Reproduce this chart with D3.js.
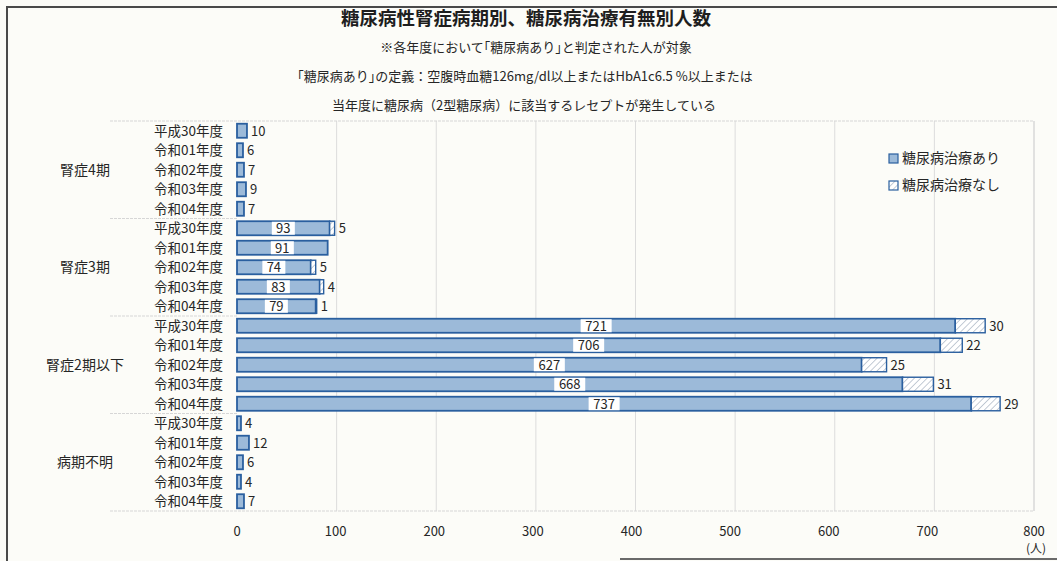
<!DOCTYPE html>
<html lang="ja">
<head>
<meta charset="utf-8">
<script src="https://cdn.jsdelivr.net/npm/d3@7"></script>
<style>
  html, body { margin: 0; padding: 0; background: #fcfcf8; }
  svg { display: block; font-family: "Noto Sans CJK JP", "Noto Sans", sans-serif; }
</style>
</head>
<body>
<svg id="chart" width="1057" height="561"></svg>
<script>
// 病期グループと年度
const groups = ["腎症4期", "腎症3期", "腎症2期以下", "病期不明"];
const years = ["平成30年度", "令和01年度", "令和02年度", "令和03年度", "令和04年度"];

// 糖尿病治療あり（人）: 年度順
const treated4 = [10, 6, 7, 9, 7];
const treated3 = [93, 91, 74, 83, 79];
const treated2 = [721, 706, 627, 668, 737];
const treatedU = [4, 12, 6, 4, 7];

// 糖尿病治療なし（人）
const untreated4 = [0, 0, 0, 0, 0];
const untreated3 = [5, 0, 5, 4, 1];
const untreated2 = [30, 22, 25, 31, 29];
const untreatedU = [0, 0, 0, 0, 0];

const xTicks = [0, 100, 200, 300, 400, 500, 600, 700, 800];
const seriesNames = ["糖尿病治療あり", "糖尿病治療なし"];

const titleText = "糖尿病性腎症病期別、糖尿病治療有無別人数";
const noteLines = [
  "※各年度において｢糖尿病あり｣と判定された人が対象",
  "｢糖尿病あり｣の定義：空腹時血糖126mg/dl以上またはHbA1c6.5 %以上または",
  "当年度に糖尿病（2型糖尿病）に該当するレセプトが発生している"
];

const treatedAll = [treated4, treated3, treated2, treatedU];
const untreatedAll = [untreated4, untreated3, untreated2, untreatedU];

const rows = [];
groups.forEach((g, gi) => {
  years.forEach((yr, yi) => {
    rows.push({ key: g + "|" + yr, group: g, year: yr,
      treated: treatedAll[gi][yi], untreated: untreatedAll[gi][yi] });
  });
});

const svg = d3.select("#chart");
const fill = "#9cbad9", stroke = "#2a5f9f", textCol = "#262626";

// 外枠
svg.append("line").attr("x1", 7).attr("x2", 1057).attr("y1", 7).attr("y2", 7)
  .attr("stroke", "#4a4a4a").attr("stroke-width", 2);
svg.append("line").attr("x1", 7).attr("x2", 7).attr("y1", 6).attr("y2", 561)
  .attr("stroke", "#4a4a4a").attr("stroke-width", 2);
svg.append("line").attr("x1", 620).attr("x2", 1057).attr("y1", 559).attr("y2", 559)
  .attr("stroke", "#6a6a6a").attr("stroke-width", 2);

// 斜線パターン（治療なし）
const defs = svg.append("defs");
const pat = defs.append("pattern").attr("id", "hatch").attr("patternUnits", "userSpaceOnUse")
  .attr("width", 4.5).attr("height", 4.5).attr("patternTransform", "rotate(45)");
pat.append("rect").attr("width", 4.5).attr("height", 4.5).attr("fill", "#ffffff");
pat.append("line").attr("x1", 0).attr("y1", 0).attr("x2", 0).attr("y2", 4.5)
  .attr("stroke", "#a3b0c0").attr("stroke-width", 1.3);

// タイトル
svg.append("text").attr("x", 526).attr("y", 25).attr("text-anchor", "middle")
  .attr("font-size", 18.5).attr("font-weight", "bold").attr("fill", "#1e1e1e").text(titleText);
const noteY = [52, 81, 110];
const noteX = [536, 525, 524];
noteLines.forEach((t, i) => {
  svg.append("text").attr("x", noteX[i]).attr("y", noteY[i]).attr("text-anchor", "middle")
    .attr("font-size", 13).attr("fill", textCol).text(t);
});

// スケール
const x = d3.scaleLinear().domain([0, 800]).range([237, 1034]);
const y = d3.scaleBand().domain(rows.map(d => d.key)).range([121, 511])
  .paddingInner(0.28).paddingOuter(0.14);
const plotTop = 121, plotBottom = 511;

// 縦グリッド線
svg.append("g").selectAll("line").data(xTicks.slice(1)).join("line")
  .attr("x1", d => x(d)).attr("x2", d => x(d))
  .attr("y1", plotTop).attr("y2", plotBottom)
  .attr("stroke", "#dcdcdc").attr("stroke-width", 1);

// グループ区切り線
const groupEdges = [0, 5, 10, 15, 20].map(i => i === 20 ? plotBottom : (i === 0 ? plotTop : y(rows[i].key) - y.step() * y.paddingInner() / 2));
svg.append("g").selectAll("line").data(groupEdges).join("line")
  .attr("x1", 110)
  .attr("x2", (d, i) => (i === 0 || i === 4) ? 1034 : 237)
  .attr("y1", d => d).attr("y2", d => d)
  .attr("stroke", "#d6d6d6").attr("stroke-width", 1)
  .attr("stroke-dasharray", "3,1");
svg.append("line").attr("x1", 1034).attr("x2", 1034).attr("y1", plotTop).attr("y2", plotBottom)
  .attr("stroke", "#d6d6d6");

// 年度ラベル
svg.append("g").selectAll("text").data(rows).join("text")
  .attr("x", 223).attr("y", d => y(d.key) + y.bandwidth() / 2 + 5)
  .attr("text-anchor", "end").attr("font-size", 13.5).attr("fill", textCol)
  .text(d => d.year);

// グループラベル
svg.append("g").selectAll("text").data(groups).join("text")
  .attr("x", 85)
  .attr("y", (g, gi) => (groupEdges[gi] + groupEdges[gi + 1]) / 2 + 5)
  .attr("text-anchor", "middle").attr("font-size", 14).attr("fill", textCol)
  .text(g => g);

// 棒（治療あり）
const bars = svg.append("g");
bars.selectAll("rect.t").data(rows).join("rect").attr("class", "t")
  .attr("x", x(0)).attr("y", d => y(d.key))
  .attr("width", d => x(d.treated) - x(0)).attr("height", y.bandwidth())
  .attr("fill", fill).attr("stroke", stroke).attr("stroke-width", 1.8);

// 棒（治療なし）
bars.selectAll("rect.u").data(rows.filter(d => d.untreated > 0)).join("rect").attr("class", "u")
  .attr("x", d => x(d.treated)).attr("y", d => y(d.key))
  .attr("width", d => x(d.treated + d.untreated) - x(d.treated)).attr("height", y.bandwidth())
  .attr("fill", "url(#hatch)").attr("stroke", stroke).attr("stroke-width", 1.4);

// 値ラベル（治療あり：棒の中央に白地で表示）
const inside = rows.filter(d => d.treated >= 50);
const lab = svg.append("g");
inside.forEach(d => {
  const cx = (x(0) + x(d.treated)) / 2;
  const cy = y(d.key) + y.bandwidth() / 2;
  const w = String(d.treated).length * 8 + 7;
  lab.append("rect").attr("x", cx - w / 2).attr("y", cy - 6.5).attr("width", w).attr("height", 13)
    .attr("fill", "#ffffff");
  lab.append("text").attr("x", cx).attr("y", cy + 5).attr("text-anchor", "middle")
    .attr("font-size", 13).attr("fill", textCol).text(d.treated);
});

// 値ラベル（棒の右側）
const outside = rows.filter(d => d.treated < 50 || d.untreated > 0).map(d => ({
  key: d.key,
  end: d.treated + d.untreated,
  value: d.treated < 50 ? d.treated : d.untreated
}));
lab.selectAll("text.o").data(outside).join("text").attr("class", "o")
  .attr("x", d => x(d.end) + 4).attr("y", d => y(d.key) + y.bandwidth() / 2 + 5)
  .attr("font-size", 13).attr("fill", textCol).text(d => d.value);

// X軸目盛ラベル
svg.append("g").selectAll("text").data(xTicks).join("text")
  .attr("x", d => x(d) - (d > 0 && d < 800 ? d / 100 : 0))
  .attr("y", 536).attr("text-anchor", "middle").attr("font-size", 13).attr("fill", textCol)
  .text(d => d);
svg.append("text").attr("x", x(800) + 2).attr("y", 553).attr("text-anchor", "middle")
  .attr("font-size", 12).attr("fill", textCol).text("(人)");

// 凡例
const leg = svg.append("g");
seriesNames.forEach((n, i) => {
  const ly = 158 + i * 27;
  leg.append("rect").attr("x", 889).attr("y", ly - 4).attr("width", 9).attr("height", 9)
    .attr("fill", i === 0 ? fill : "url(#hatch)").attr("stroke", stroke).attr("stroke-width", 1.2);
  leg.append("text").attr("x", 902).attr("y", ly + 5).attr("font-size", 14).attr("fill", textCol).text(n);
});
</script>
</body>
</html>
